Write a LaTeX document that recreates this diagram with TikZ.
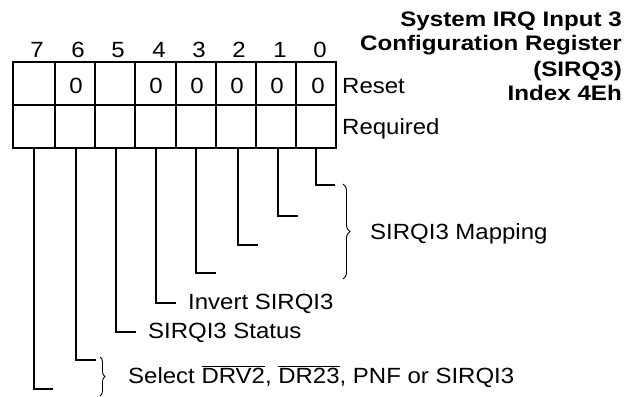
\documentclass[tikz,border=0pt]{standalone}
\usepackage{fontspec}
\setmainfont[FakeStretch=1.09]{Liberation Sans}
\newfontfamily\titlefont[FakeStretch=1.15]{Liberation Sans}
\usetikzlibrary{decorations.pathreplacing}
\begin{document}
\begin{tikzpicture}[x=1pt,y=-1pt,
  bodytxt/.style={font=\fontsize{22}{26}\selectfont, inner sep=0pt, anchor=base},
  titletxt/.style={font=\titlefont\fontsize{21}{25}\bfseries\selectfont, inner sep=0pt, anchor=base east},
  leader/.style={line width=1.8pt},
  gridline/.style={line width=1.7pt},
  outer/.style={line width=2.6pt},
  bracestyle/.style={line width=0.9pt, decorate, decoration={brace, amplitude=#1}}]
\useasboundingbox (0,0) rectangle (634,396);
% title
\node[titletxt] (t1) at (622,27) {System IRQ Input 3};
\node[titletxt] (t2) at (622,51) {Configuration Register};
\node[titletxt] (t3) at (622,76) {(SIRQ3)};
\node[titletxt] (t4) at (622,100) {Index 4Eh};
% register grid
\foreach \x in {55,95,135,176,216,256,296}
  \draw[gridline] (\x,62) -- (\x,148);
\draw[gridline] (13,105) -- (336,105);
\draw[outer] (13,62) rectangle (336,148);
% bit numbers
\foreach \b/\x in {7/37,6/78,5/118,4/159,3/199,2/239,1/280,0/320}
  \node[bodytxt] (n\b) at (\x,58) {\b};
% reset values
\foreach \b/\x in {6/76,4/156,3/197,2/237,1/277,0/318}
  \node[bodytxt] (r\b) at (\x,93) {0};
\node[bodytxt, anchor=base west] (reset) at (342,93) {Reset};
\node[bodytxt, anchor=base west] (req) at (342,134) {Required};
% leader start coordinates (bottom of each cell)
\foreach \b/\x in {7/34,6/76,5/116,4/156,3/196,2/238,1/278,0/316}
  \coordinate (s\b) at (\x,148);
% leader ends
\coordinate (e0) at (335,185);
\coordinate (e1) at (298,216);
\coordinate (e2) at (258,245);
\coordinate (e3) at (216,273);
\coordinate (e4) at (176,303);
\coordinate (e5) at (136,332);
\coordinate (e6) at (96,360);
\coordinate (e7) at (53,389);
\foreach \b in {0,...,7}
  \draw[leader] (s\b) |- (e\b);
% braces
\coordinate (m1) at (343,184);
\coordinate (m2) at (343,279);
\draw[bracestyle=7pt] (m1) -- (m2);
\coordinate (d1) at (100,357);
\coordinate (d2) at (100,396);
\draw[bracestyle=5pt] (d1) -- (d2);
% labels
\node[bodytxt, anchor=base west] (map) at (370,239) {SIRQI3 Mapping};
\node[bodytxt, anchor=base west] (inv) at (188,309) {Invert SIRQI3};
\node[bodytxt, anchor=base west] (stat) at (148,338.5) {SIRQI3 Status};
\node[bodytxt, anchor=base west] (sel) at (128,383) {Select $\overline{\hbox{DRV2}}$, $\overline{\hbox{DR23}}$, PNF or SIRQI3};
\end{tikzpicture}
\end{document}
